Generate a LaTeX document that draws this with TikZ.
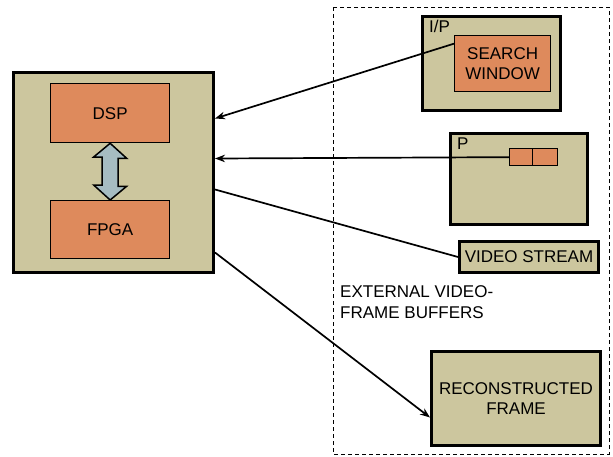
\documentclass[tikz,border=0pt]{standalone}
\usepackage{fontspec}
\setmainfont{Liberation Sans}
\usetikzlibrary{arrows.meta}
\definecolor{tan}{RGB}{204,198,158}
\definecolor{chip}{RGB}{222,138,92}
\definecolor{bus}{RGB}{166,188,194}
\tikzset{
  x=1pt, y=-1pt,
  lbl/.style={font=\fontsize{17}{20}\selectfont, align=center},
  outerbox/.style={draw=black, fill=tan, line width=3pt, inner sep=0pt, anchor=north west},
  chipbox/.style={draw=black, fill=chip, line width=1.3pt, inner sep=0pt, anchor=north west, lbl},
  link/.style={line width=1.7pt, draw=black},
  linkarrow/.style={link, -{Stealth[length=10pt,width=7.5pt]}},
}
\begin{document}
\begin{tikzpicture}
\useasboundingbox (0,0) rectangle (613,456);

% external frame buffers area
\draw[line width=1pt, dash pattern=on 4pt off 3pt] (333,7) rectangle (609,454);
\node[font=\fontsize{17}{21}\selectfont, anchor=base west, align=left, inner sep=0pt] (ext) at (340,318) {EXTERNAL VIDEO-\\FRAME BUFFERS};

% processing board
\node[outerbox, minimum width=200pt, minimum height=200pt] (main) at (12,71) {};
\node[chipbox, minimum width=119pt, minimum height=59pt] (dsp) at (50,83) {DSP};
\node[chipbox, minimum width=119pt, minimum height=58pt] (fpga) at (50,200) {FPGA};

% bidirectional bus between DSP and FPGA
\draw[line width=1.5pt, fill=bus, line join=miter]
  (dsp.south) -- ++(16.5,15) -- ++(-8.5,0) -- ++(0,28) -- ++(8.5,0)
  -- (fpga.north) -- ++(-16.5,-15) -- ++(8.5,0) -- ++(0,-28) -- ++(-8.5,0) -- cycle;

% I/P frame with search window
\node[outerbox, minimum width=138pt, minimum height=94pt] (ip) at (421,15) {};
\node[font=\fontsize{17}{20}\selectfont, anchor=base west, inner sep=0pt] (iplbl) at (429,32) {I/P};
\node[chipbox, minimum width=96pt, minimum height=56pt] (sw) at (454,35) {SEARCH\\WINDOW};

% P frame with macroblocks
\node[outerbox, line width=2.6pt, minimum width=137pt, minimum height=91pt] (p) at (449,132) {};
\node[font=\fontsize{17}{20}\selectfont, anchor=base west, inner sep=0pt] (plbl) at (457,149) {P};
\node[chipbox, minimum width=23pt, minimum height=17pt] (mb1) at (509,148) {};
\node[chipbox, minimum width=25pt, minimum height=17pt] (mb2) at (532,148) {};

% video stream
\node[outerbox, lbl, minimum width=139pt, minimum height=31pt] (vs) at (458,240) {VIDEO STREAM};

% reconstructed frame
\node[outerbox, lbl, minimum width=169pt, minimum height=94pt] (rec) at (430,350) {RECONSTRUCTED\\FRAME};

% connections
\draw[linkarrow] ([yshift=20pt]sw.west) -- ([yshift=54pt]main.east);
\draw[linkarrow] (mb1.west) -- ([yshift=14pt]main.east);
\draw[link] (vs.west) -- ([yshift=-17pt]main.east);
\draw[linkarrow] ([yshift=-80pt]main.east) -- ([yshift=-19pt]rec.west);
\end{tikzpicture}
\end{document}
